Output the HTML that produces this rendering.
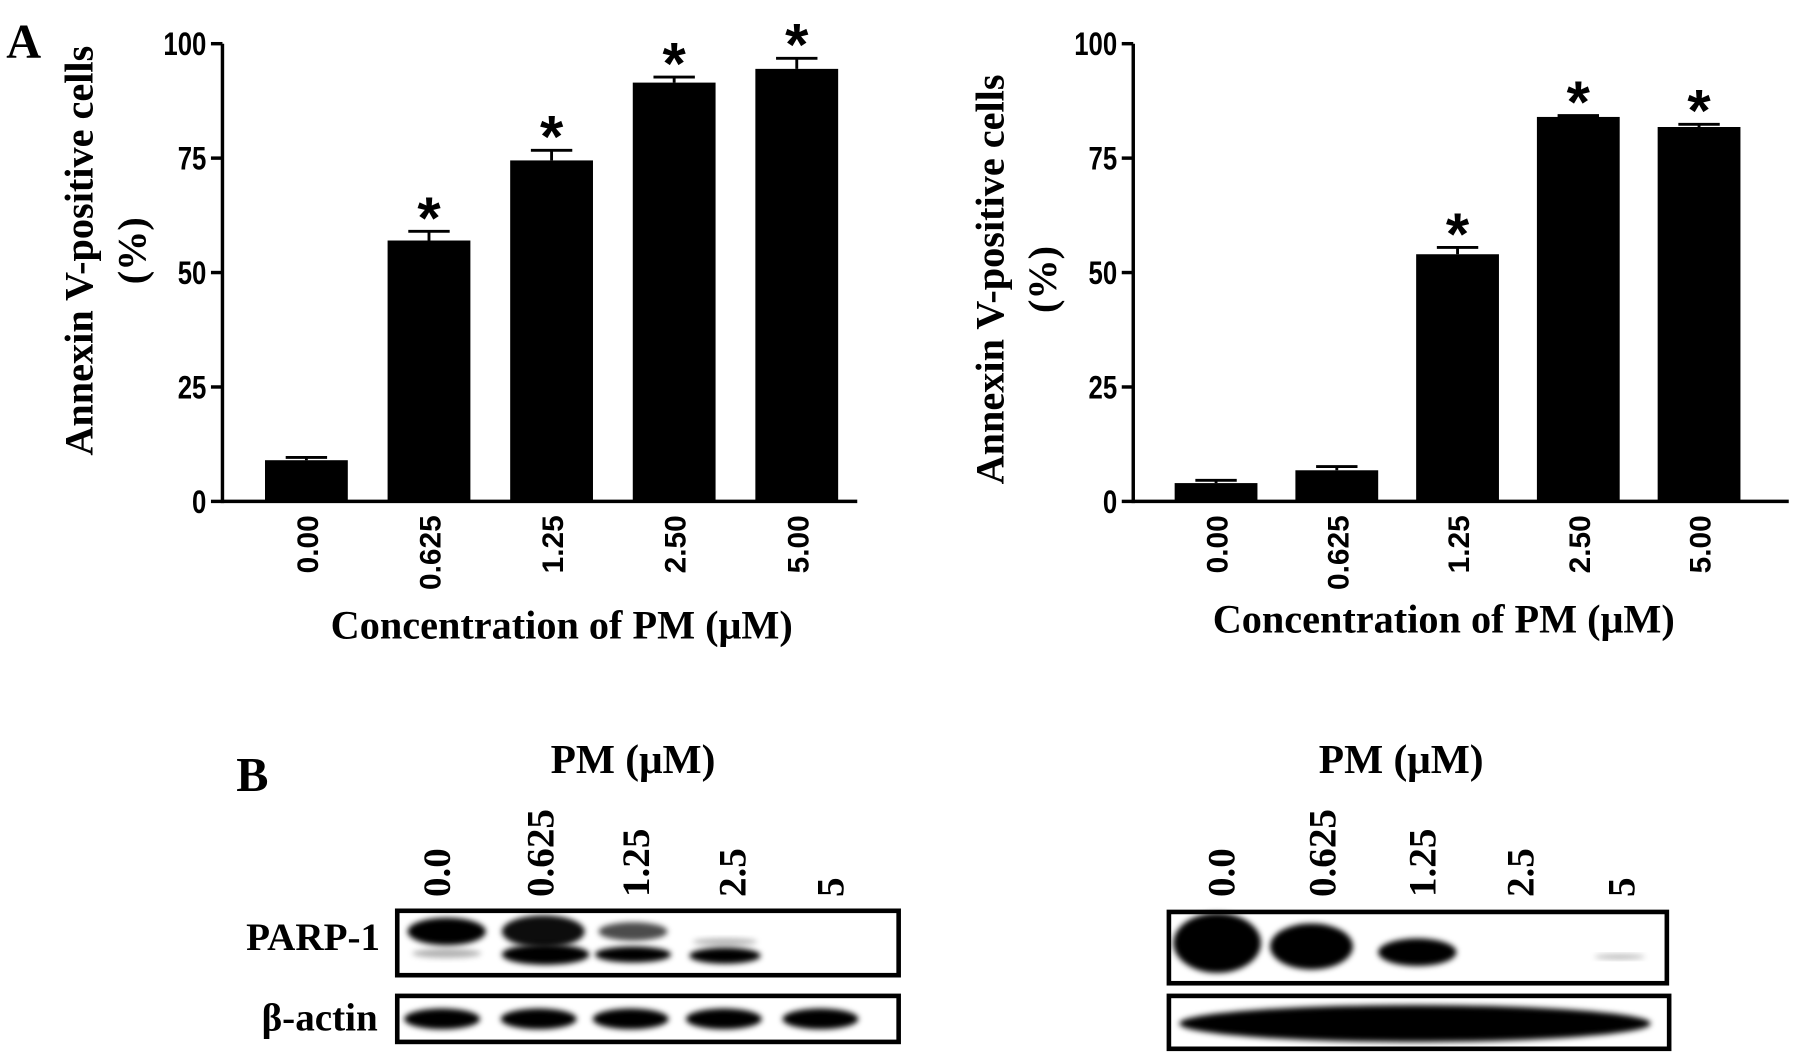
<!DOCTYPE html>
<html><head><meta charset="utf-8"><style>
html,body{margin:0;padding:0;background:#fff;}
svg{display:block;}
text{font-family:"Liberation Sans",sans-serif;font-weight:bold;fill:#000;}
.serif{font-family:"Liberation Serif",serif;}
</style></head><body>
<svg id="fig" width="1795" height="1058" viewBox="0 0 1560 920" xmlns="http://www.w3.org/2000/svg">
<defs><filter id="blur" x="-20%" y="-50%" width="140%" height="200%"><feGaussianBlur stdDeviation="2.5"/></filter></defs>
<text class="serif" x="5" y="50" font-size="42">A</text>
<text class="serif" x="205" y="688" font-size="42">B</text>
<g id="chart1"></g>
<g id="chart2"></g>
<g id="blots"></g>
</svg>
<script>
const categories = ["0.00","0.625","1.25","2.50","5.00"];
const leftValues = [9, 57, 74.5, 91.5, 94.5];
const leftErrors = [0.6, 2, 2.2, 1.2, 2.3];
const leftSig = [false, true, true, true, true];
const rightValues = [4, 6.8, 54, 84, 81.8];
const rightErrors = [0.6, 0.8, 1.5, 0.3, 0.6];
const rightSig = [false, false, true, true, true];
const yTicks = [0, 25, 50, 75, 100];
const NS = "http://www.w3.org/2000/svg";
function mk(parent, tag, attrs, txt){const e=document.createElementNS(NS,tag);for(const k in attrs)e.setAttribute(k,attrs[k]);if(txt!==undefined)e.textContent=txt;parent.appendChild(e);return e;}

function drawChart(g, cfg, values, errors, sig){
  const y = v => cfg.y0 - (v/100)*(cfg.y0-cfg.y100);
  const step = (cfg.xEnd - cfg.axisX - cfg.pad) / categories.length;
  const xc = i => cfg.axisX + cfg.pad0 + step*i + cfg.bw/2;
  let l = mk(g,'line',{x1:cfg.axisX,y1:cfg.y100,x2:cfg.axisX,y2:cfg.y0+1.5,stroke:'#000','stroke-width':3});
  
  
  l = mk(g,'line',{x1:cfg.axisX,y1:cfg.y0,x2:cfg.xEnd,y2:cfg.y0,stroke:'#000','stroke-width':3});
  
  
  yTicks.forEach(t=>{
    const tk = mk(g,'line',{x1:cfg.axisX-10,y1:y(t),x2:cfg.axisX,y2:y(t),stroke:'#000','stroke-width':3});
    
    
    const tl = mk(g,'text',{x:0,y:0,'font-size':28,'text-anchor':'end',transform:`translate(${cfg.axisX-14},${y(t)+10}) scale(0.8,1)`},String(t));
    
    
  });
  values.forEach((v,i)=>{
    const cx = xc(i);
    const b = mk(g,'rect',{x:cx-cfg.bw/2,y:y(v),width:cfg.bw,height:cfg.y0-y(v),fill:'#000'});
    
    
    const et = y(v+errors[i]);
    const e1 = mk(g,'path',{d:`M${cx} ${y(v)} V${et} M${cx-18} ${et} H${cx+18}`,stroke:'#000','stroke-width':2.5,fill:'none'});
    
    
    if(sig[i]){
      const s = mk(g,'text',{x:cx,y:et+6,'font-size':52,'text-anchor':'middle'},'*');
      
      
    }
    const xl = mk(g,'text',{x:0,y:0,'font-size':26,'text-anchor':'end',transform:`translate(${cx+10},${cfg.y0+12}) rotate(-90)`},categories[i]);
    
    
  });
  const xt = mk(g,'text',{x:cfg.titleX,y:cfg.titleY,'font-size':35,'text-anchor':'middle','class':'serif'},'Concentration of PM (μM)');
  
  
  const yt = mk(g,'text',{x:0,y:0,'font-size':35,'text-anchor':'middle','class':'serif',transform:`translate(${cfg.yTitleX},${cfg.yTitleY}) rotate(-90)`},'Annexin V-positive cells');
  
  
  const yt2 = mk(g,'text',{x:0,y:0,'font-size':35,'text-anchor':'middle','class':'serif',transform:`translate(${cfg.yTitleX+46},${cfg.yTitleY}) rotate(-90)`},'(%)');
  
  
}
drawChart(document.getElementById('chart1'),{axisX:193,xEnd:745,y0:436,y100:38,bw:72,pad0:37,pad:19,titleX:488,titleY:555,yTitleX:80,yTitleY:218},leftValues,leftErrors,leftSig);
drawChart(document.getElementById('chart2'),{axisX:985,xEnd:1555,y0:436,y100:38,bw:72,pad0:36,pad:45,titleX:1255,titleY:550,yTitleX:872,yTitleY:243},rightValues,rightErrors,rightSig);

// Blots
const lanes = ["0.0","0.625","1.25","2.5","5"];
const g = document.getElementById('blots');
function label(x,y,t,name,anchor,size){const e=mk(g,'text',{x:x,y:y,'font-size':size||30,'text-anchor':anchor||'middle','class':'serif'},t);return e;}
label(550,672,'PM (μM)','blot-title-left','middle',36);
label(1218,672,'PM (μM)','blot-title-right','middle',36);
label(330,826,'PARP-1','parp-label','end',34);
label(328,896,'β-actin','actin-label','end',34);
function laneLabels(xs){xs.forEach((x,i)=>{const e=mk(g,'text',{x:0,y:0,'font-size':34,'text-anchor':'start','class':'serif',transform:`translate(${x+11},780) rotate(-90)`},lanes[i]);});}
const leftLanes=[380,470,553,637,722], rightLanes=[1062,1150,1237,1322,1410];
laneLabels(leftLanes); laneLabels(rightLanes);
function box(x,y,w,h,name){const r=mk(g,'rect',{x:x,y:y,width:w,height:h,fill:'none',stroke:'#000','stroke-width':4});}
function band(cx,cy,rx,ry,op,name){const e=mk(g,'ellipse',{cx:cx,cy:cy,rx:rx,ry:ry,fill:'#000','fill-opacity':op,filter:'url(#blur)'});}
band(388,810,34,12,1,'band');band(388,829,30,4,0.3,'band');
band(472,810,36,14,0.95,'band');band(474,830,38,9,1,'band');
band(550,810,30,8,0.7,'band');band(550,830,33,7,1,'band');
band(630,819,28,3,0.3,'band');band(630,831,31,7,1,'band');
box(345,792,436,56,'parp-blot-left');
[384,468,548,629,713].forEach(x=>band(x,886,33,9,1,'actin-band'));
box(345,866,436,40,'actin-blot-left');
band(1058,820,38,26,1,'band');band(1140,823,36,20,1,'band');band(1232,828,34,12,1,'band');band(1408,832,22,2,0.3,'band');
box(1016,793,433,62,'parp-blot-right');
band(1230,890,205,16,1,'actin-band');
box(1016,866,435,46,'actin-blot-right');
</script>
</body></html>
